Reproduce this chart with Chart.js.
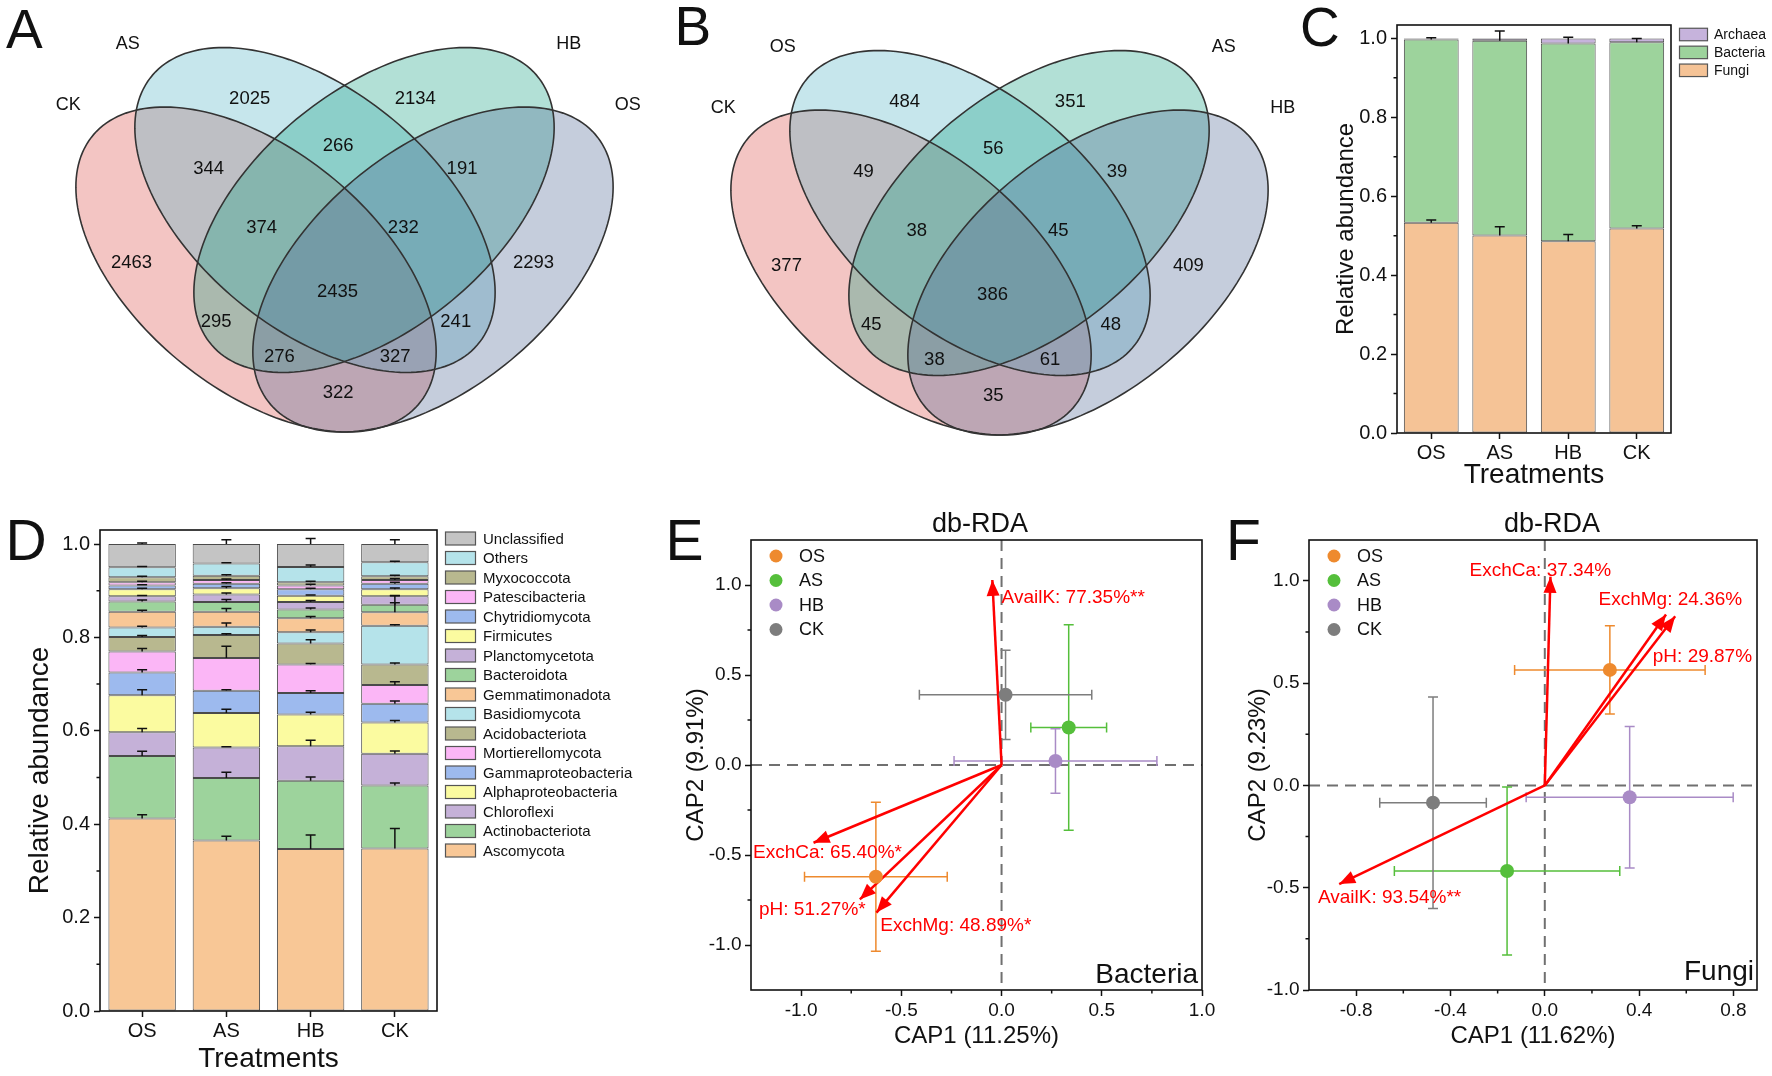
<!DOCTYPE html>
<html>
<head>
<meta charset="utf-8">
<title>Venn, composition and db-RDA panels</title>
<script src="https://cdn.jsdelivr.net/npm/chart.js@4.4.1/dist/chart.umd.min.js"></script>
<style>
  html, body { margin: 0; padding: 0; background: #fff; }
  #fig { position: relative; width: 1772px; height: 1076px; overflow: hidden; background: #fff;
         font-family: "Liberation Sans", Arial, sans-serif; color: #111; }
  #fig canvas { position: absolute; }
  .txt { position: absolute; white-space: nowrap; line-height: 1; }
</style>
</head>
<body>
<div id="fig"></div>
<script>
/* global Chart */

// ---- A / B: Venn counts, order = L, l, r, R, Ll, lr, rR, Llr, lrR, LlrR, Lr, lR, LrR, LlR, LR
// (L outer-left, l inner-left, r inner-right, R outer-right)
const vennASets = ["CK", "AS", "HB", "OS"];
const vennACounts = [2463, 2025, 2134, 2293, 344, 266, 191, 374, 232, 2435, 295, 241, 276, 327, 322];
const vennBSets = ["CK", "OS", "AS", "HB"];
const vennBCounts = [377, 484, 351, 409, 49, 56, 39, 38, 45, 386, 45, 48, 38, 61, 35];

// ---- C: kingdom level
const treatments = ["OS", "AS", "HB", "CK"];
const fungi = [0.533, 0.5005, 0.486, 0.518];
const bacteria = [0.4645, 0.4935, 0.501, 0.472];
const archaea = [0.0025, 0.006, 0.013, 0.010];
const fungiErr = [0.007, 0.022, 0.017, 0.007];
const bacteriaErr = [0.004, 0.025, 0.016, 0.010];
const archaeaErr = [0, 0, 0, 0];

// ---- D: phylum level, bottom of the stack first
const taxa = ["Ascomycota", "Actinobacteriota", "Chloroflexi", "Alphaproteobacteria", "Gammaproteobacteria",
  "Mortierellomycota", "Acidobacteriota", "Basidiomycota", "Gemmatimonadota", "Bacteroidota",
  "Planctomycetota", "Firmicutes", "Chytridiomycota", "Patescibacteria", "Myxococcota", "Others", "Unclassified"];
const taxaOS = [0.412, 0.134, 0.051, 0.079, 0.049, 0.045, 0.031, 0.020, 0.034, 0.022, 0.011, 0.015, 0.008, 0.007, 0.011, 0.021, 0.050];
const taxaAS = [0.365, 0.134, 0.065, 0.074, 0.048, 0.070, 0.049, 0.018, 0.032, 0.021, 0.016, 0.013, 0.010, 0.008, 0.009, 0.026, 0.042];
const taxaHB = [0.347, 0.146, 0.074, 0.068, 0.046, 0.061, 0.045, 0.024, 0.030, 0.019, 0.016, 0.013, 0.014, 0.008, 0.007, 0.033, 0.049];
const taxaCK = [0.348, 0.135, 0.068, 0.067, 0.040, 0.040, 0.044, 0.083, 0.029, 0.016, 0.018, 0.015, 0.012, 0.008, 0.008, 0.030, 0.039];
const errOS = [0.008, 0.010, 0.008, 0.012, 0.006, 0.006, 0.003, 0.003, 0.003, 0.003, 0.002, 0.002, 0.002, 0.002, 0.002, 0.002, 0.002];
const errAS = [0.009, 0.012, 0.002, 0.008, 0.002, 0.025, 0.003, 0.008, 0.007, 0.005, 0.003, 0.004, 0.002, 0.002, 0.002, 0.002, 0.009];
const errHB = [0.030, 0.008, 0.013, 0.005, 0.005, 0.002, 0.008, 0.005, 0.004, 0.003, 0.003, 0.002, 0.002, 0.003, 0.002, 0.004, 0.012];
const errCK = [0.043, 0.005, 0.006, 0.004, 0.006, 0.007, 0.003, 0.002, 0.035, 0.004, 0.002, 0.003, 0.003, 0.003, 0.002, 0.002, 0.009];

// ---- E / F: db-RDA
const groups = ["OS", "AS", "HB", "CK"];
const cap1E = [-0.627, 0.335, 0.269, 0.020];
const cap2E = [-0.621, 0.208, 0.022, 0.390];
const cap1ErrE = [0.356, 0.189, 0.506, 0.430];
const cap2ErrE = [0.414, 0.571, 0.179, 0.248];
const envE = ["AvailK", "ExchCa", "pH", "ExchMg"];
const envPctE = ["77.35%**", "65.40%*", "51.27%*", "48.89%*"];
const envXE = [-0.046, -0.938, -0.707, -0.624];
const envYE = [1.028, -0.432, -0.747, -0.820];

const cap1F = [0.276, -0.160, 0.360, -0.474];
const cap2F = [0.565, -0.418, -0.058, -0.084];
const cap1ErrF = [0.404, 0.478, 0.439, 0.226];
const cap2ErrF = [0.216, 0.411, 0.346, 0.517];
const envF = ["ExchCa", "ExchMg", "pH", "AvailK"];
const envPctF = ["37.34%", "24.36%", "29.87%", "93.54%**"];
const envXF = [0.024, 0.514, 0.553, -0.872];
const envYF = [1.020, 0.836, 0.827, -0.482];

// ---------------- layout / style (not data) ----------------
const FONT = '"Liberation Sans", Arial, sans-serif';
const INK = "#111";
Chart.defaults.font.family = FONT;
Chart.defaults.color = INK;

// venn geometry in venn units (semi-axes 0.35 x 0.2)
const ELLIPSES = [
  { cx: 0.36, cy: 0.47, rot: 135 },
  { cx: 0.4533, cy: 0.5744, rot: 135 },
  { cx: 0.5467, cy: 0.5744, rot: 45 },
  { cx: 0.64, cy: 0.47, rot: 45 },
];
const VENN_FILL = ["rgba(219,79,73,0.33)", "rgba(82,179,197,0.33)", "rgba(22,161,131,0.33)", "rgba(79,104,149,0.33)"];
const regionX = [0.163, 0.350, 0.612, 0.799, 0.285, 0.490, 0.686, 0.369, 0.593, 0.489, 0.297, 0.676, 0.397, 0.580, 0.490];
const regionY = [0.481, 0.770, 0.770, 0.481, 0.646, 0.686, 0.646, 0.543, 0.543, 0.431, 0.378, 0.378, 0.316, 0.316, 0.253];
const setX = [0.063, 0.157, 0.855, 0.948];
const setY = [0.758, 0.865, 0.865, 0.758];

const kingdomColors = ["#F5C396", "#9DD39C", "#C6B3DC"];
const cycle = ["#F8C796", "#9DD39C", "#C5B1D8", "#FBFBA0", "#9DBAEE", "#FBB6F6", "#B8B88F", "#B5E3EA"];
const taxaColors = taxa.map((t, i) => (t === "Unclassified" ? "#C4C4C4" : cycle[i % 8]));
const groupColors = ["#EE8A2E", "#55BF3B", "#A98BC6", "#7D7D7D"];
const tagXE = [0.0, -1.24, -1.21, -0.605];
const tagYE = [0.93, -0.49, -0.806, -0.893];
const tagXF = [-0.319, 0.228, 0.458, -0.962];
const tagYF = [1.049, 0.908, 0.628, -0.548];

const fig = document.getElementById("fig");

function makeCanvas(left, top, w, h) {
  const c = document.createElement("canvas");
  c.width = w; c.height = h;
  c.style.left = left + "px"; c.style.top = top + "px";
  c.style.width = w + "px"; c.style.height = h + "px";
  fig.appendChild(c);
  return c;
}

// text placed by its baseline
function addText(txt, size, x, baseline, align) {
  const d = document.createElement("div");
  d.className = "txt";
  d.textContent = txt;
  d.style.fontSize = size + "px";
  d.style.top = (baseline - 0.8465 * size) + "px";
  if (align === "center") { d.style.left = (x - 300) + "px"; d.style.width = "600px"; d.style.textAlign = "center"; }
  else if (align === "right") { d.style.left = (x - 600) + "px"; d.style.width = "600px"; d.style.textAlign = "right"; }
  else d.style.left = x + "px";
  fig.appendChild(d);
}

// ---------------- plugins ----------------
const vennPlugin = {
  id: "venn",
  beforeDatasetsDraw(chart) {
    const { ctx, scales: { x, y } } = chart;
    const paths = ELLIPSES.map(e => {
      const p = new Path2D();
      const r = e.rot * Math.PI / 180;
      for (let i = 0; i <= 180; i++) {
        const t = i / 180 * 2 * Math.PI;
        const u = 0.35 * Math.cos(t), v = 0.2 * Math.sin(t);
        const px = x.getPixelForValue(e.cx + u * Math.cos(r) - v * Math.sin(r));
        const py = y.getPixelForValue(e.cy + u * Math.sin(r) + v * Math.cos(r));
        if (i) p.lineTo(px, py); else p.moveTo(px, py);
      }
      p.closePath();
      return p;
    });
    ctx.save();
    paths.forEach((p, i) => { ctx.fillStyle = VENN_FILL[i]; ctx.fill(p); });
    ctx.strokeStyle = "#333"; ctx.lineWidth = 1.6;
    paths.forEach(p => ctx.stroke(p));
    ctx.restore();
  },
  afterDatasetsDraw(chart, args, opts) {
    const { ctx, scales: { x, y } } = chart;
    const ds = chart.data.datasets[0];
    ctx.save();
    ctx.fillStyle = INK; ctx.textAlign = "center"; ctx.textBaseline = "middle";
    ctx.font = "18.5px " + FONT;
    chart.getDatasetMeta(0).data.forEach((pt, i) => ctx.fillText(String(ds.counts[i]), pt.x, pt.y));
    ctx.font = "18px " + FONT;
    opts.sets.forEach((s, i) => ctx.fillText(s, x.getPixelForValue(setX[i]), y.getPixelForValue(setY[i])));
    ctx.restore();
  }
};

const framePlugin = {
  id: "frame",
  afterDraw(chart) {
    const { ctx, chartArea: a } = chart;
    ctx.save(); ctx.strokeStyle = INK; ctx.lineWidth = 1.6;
    ctx.strokeRect(a.left, a.top, a.right - a.left, a.bottom - a.top);
    ctx.restore();
  }
};

const minorPlugin = {
  id: "minor",
  afterDraw(chart, args, opts) {
    const { ctx, chartArea: a, scales } = chart;
    ctx.save(); ctx.strokeStyle = INK; ctx.lineWidth = 1.5; ctx.beginPath();
    (opts.x || []).forEach(v => { const p = scales.x.getPixelForValue(v); ctx.moveTo(p, a.bottom); ctx.lineTo(p, a.bottom + 3.5); });
    (opts.y || []).forEach(v => { const p = scales.y.getPixelForValue(v); ctx.moveTo(a.left, p); ctx.lineTo(a.left - 3.5, p); });
    ctx.stroke(); ctx.restore();
  }
};

const barErrPlugin = {
  id: "barErr",
  afterDatasetsDraw(chart) {
    const { ctx, scales: { y } } = chart;
    const sets = chart.data.datasets;
    ctx.save(); ctx.strokeStyle = INK; ctx.lineWidth = 1.5;
    sets.forEach((ds, i) => {
      chart.getDatasetMeta(i).data.forEach((bar, j) => {
        const e = ds.err[j];
        if (!e) return;
        let cum = 0;
        for (let k = 0; k <= i; k++) cum += sets[k].data[j];
        const yt = y.getPixelForValue(cum + e);
        ctx.beginPath();
        ctx.moveTo(bar.x, bar.y); ctx.lineTo(bar.x, yt);
        ctx.moveTo(bar.x - 5, yt); ctx.lineTo(bar.x + 5, yt);
        ctx.stroke();
      });
    });
    ctx.restore();
  }
};

const boxLegendPlugin = {
  id: "boxLegend",
  afterDraw(chart, args, o) {
    const { ctx, chartArea: a } = chart;
    const items = chart.data.datasets.slice().reverse();
    ctx.save();
    ctx.font = o.size + "px " + FONT; ctx.textBaseline = "middle"; ctx.textAlign = "left";
    items.forEach((ds, i) => {
      const cy = a.top + o.dy0 + i * o.step;
      const bx = a.right + o.dx;
      ctx.fillStyle = ds.backgroundColor; ctx.fillRect(bx, cy - o.bh / 2, o.bw, o.bh);
      ctx.strokeStyle = "#555"; ctx.lineWidth = 1.2; ctx.strokeRect(bx, cy - o.bh / 2, o.bw, o.bh);
      ctx.fillStyle = INK; ctx.fillText(ds.label, bx + o.bw + o.gap, cy + 1);
    });
    ctx.restore();
  }
};

const rdaPlugin = {
  id: "rda",
  beforeDatasetsDraw(chart) {
    const { ctx, chartArea: a, scales: { x, y } } = chart;
    ctx.save();
    ctx.strokeStyle = "#707070"; ctx.lineWidth = 2; ctx.setLineDash([11, 7]);
    const x0 = x.getPixelForValue(0), y0 = y.getPixelForValue(0);
    ctx.beginPath();
    ctx.moveTo(x0, a.top); ctx.lineTo(x0, a.bottom);
    ctx.moveTo(a.left, y0); ctx.lineTo(a.right, y0);
    ctx.stroke();
    ctx.setLineDash([]);
    chart.data.datasets.forEach(ds => {
      if (!ds.group) return;
      const p = ds.data[0];
      const cx = x.getPixelForValue(p.x), cy = y.getPixelForValue(p.y);
      const l = x.getPixelForValue(p.x - ds.xErr), r = x.getPixelForValue(p.x + ds.xErr);
      const t = y.getPixelForValue(p.y + ds.yErr), b = y.getPixelForValue(p.y - ds.yErr);
      ctx.strokeStyle = ds.backgroundColor; ctx.lineWidth = 1.5;
      ctx.beginPath();
      ctx.moveTo(l, cy); ctx.lineTo(r, cy);
      ctx.moveTo(l, cy - 5); ctx.lineTo(l, cy + 5);
      ctx.moveTo(r, cy - 5); ctx.lineTo(r, cy + 5);
      ctx.moveTo(cx, t); ctx.lineTo(cx, b);
      ctx.moveTo(cx - 5, t); ctx.lineTo(cx + 5, t);
      ctx.moveTo(cx - 5, b); ctx.lineTo(cx + 5, b);
      ctx.stroke();
    });
    ctx.restore();
  },
  afterDatasetsDraw(chart) {
    const { ctx, chartArea: a, scales: { x, y } } = chart;
    ctx.save();
    chart.data.datasets.forEach((ds, i) => {
      if (!ds.arrow) return;
      const [p0, p1] = chart.getDatasetMeta(i).data;
      const ang = Math.atan2(p1.y - p0.y, p1.x - p0.x);
      const c = Math.cos(ang), s = Math.sin(ang);
      ctx.fillStyle = "#FF0000";
      ctx.beginPath();
      ctx.moveTo(p1.x, p1.y);
      ctx.lineTo(p1.x - 16 * c + 6.5 * s, p1.y - 16 * s - 6.5 * c);
      ctx.lineTo(p1.x - 16 * c - 6.5 * s, p1.y - 16 * s + 6.5 * c);
      ctx.closePath(); ctx.fill();
      ctx.font = "19px " + FONT; ctx.textAlign = "left"; ctx.textBaseline = "middle";
      ctx.fillText(ds.tag, x.getPixelForValue(ds.tagX), y.getPixelForValue(ds.tagY));
    });
    // legend
    ctx.font = "18px " + FONT; ctx.textBaseline = "middle"; ctx.textAlign = "left";
    chart.data.datasets.filter(d => d.group).forEach((ds, i) => {
      const cx = a.left + 25, cy = a.top + 16 + i * 24.5;
      ctx.fillStyle = ds.backgroundColor;
      ctx.beginPath(); ctx.arc(cx, cy, 6.5, 0, 2 * Math.PI); ctx.fill();
      ctx.fillStyle = INK; ctx.fillText(ds.label, cx + 23, cy + 1);
    });
    ctx.restore();
  }
};

// ---------------- axis helpers ----------------
function yAxis(o) {
  return {
    type: "linear", min: o.min, max: o.max, stacked: !!o.stacked,
    afterFit: s => { s.width = o.width; s.paddingTop = 0; s.paddingBottom = 0; },
    afterBuildTicks: s => { s.ticks = o.ticks.map(v => ({ value: v })); },
    ticks: { font: { size: o.tickSize }, padding: o.tickPad, color: INK, callback: v => v.toFixed(1) },
    grid: { drawOnChartArea: false, tickLength: 6, tickWidth: 1.5, tickColor: INK },
    border: { display: false },
    title: { display: true, text: o.title, color: INK, font: { size: o.titleSize }, padding: { top: o.titlePad, bottom: 0 } }
  };
}

function xLinear(o) {
  return {
    type: "linear", min: o.min, max: o.max,
    afterFit: s => { s.height = o.height; s.paddingLeft = 0; s.paddingRight = 0; },
    afterBuildTicks: s => { s.ticks = o.ticks.map(v => ({ value: v })); },
    ticks: { font: { size: 19 }, padding: 3, color: INK, maxRotation: 0, callback: v => v.toFixed(1) },
    grid: { drawOnChartArea: false, tickLength: 6, tickWidth: 1.5, tickColor: INK },
    border: { display: false },
    title: { display: true, text: o.title, color: INK, font: { size: 24 }, padding: { top: 0, bottom: 0 } }
  };
}

function xCategory(height) {
  return {
    type: "category", stacked: true, offset: true,
    afterFit: s => { s.height = height; s.paddingLeft = 0; s.paddingRight = 0; },
    ticks: { font: { size: 20 }, padding: 2, color: INK, maxRotation: 0 },
    grid: { offset: false, drawOnChartArea: false, tickLength: 6, tickWidth: 1.5, tickColor: INK },
    border: { display: false },
    title: { display: true, text: "Treatments", color: INK, font: { size: 28 }, padding: { top: 0, bottom: 0 } }
  };
}

const quiet = { legend: { display: false }, tooltip: { enabled: false } };

// ---------------- A, B ----------------
function venn(left, top, w, h, pad, sets, counts) {
  new Chart(makeCanvas(left, top, w, h), {
    type: "scatter",
    data: { datasets: [{ data: regionX.map((x, i) => ({ x, y: regionY[i] })), counts, pointRadius: 0 }] },
    options: {
      responsive: false, animation: false, events: [],
      layout: { padding: pad, autoPadding: false },
      scales: { x: { display: false, min: 0, max: 1 }, y: { display: false, min: 0.1, max: 0.9 } },
      plugins: Object.assign({ venn: { sets } }, quiet)
    },
    plugins: [vennPlugin]
  });
}
venn(0, 0, 670, 500, { left: 28.5, right: 9.5, top: 24.4, bottom: 19.6 }, vennASets, vennACounts);
venn(660, 0, 670, 500, { left: 23.5, right: 14.5, top: 27.4, bottom: 16.6 }, vennBSets, vennBCounts);

// ---------------- C ----------------
const barDefaults = { borderColor: "#4a4a4a", borderWidth: 1, borderSkipped: false, barPercentage: 0.8, categoryPercentage: 1 };
new Chart(makeCanvas(1290, 0, 482, 492), {
  type: "bar",
  data: {
    labels: treatments,
    datasets: [
      { label: "Fungi", data: fungi, err: fungiErr, backgroundColor: kingdomColors[0] },
      { label: "Bacteria", data: bacteria, err: bacteriaErr, backgroundColor: kingdomColors[1] },
      { label: "Archaea", data: archaea, err: archaeaErr, backgroundColor: kingdomColors[2] }
    ]
  },
  options: {
    responsive: false, animation: false, events: [],
    layout: { padding: { left: 0, top: 25, right: 101, bottom: 0 }, autoPadding: false },
    datasets: { bar: barDefaults },
    scales: {
      x: xCategory(59),
      y: yAxis({ min: 0, max: 1.034, stacked: true, width: 107, ticks: [0, 0.2, 0.4, 0.6, 0.8, 1.0], tickSize: 20, tickPad: 4,
                 title: "Relative abundance", titleSize: 24, titlePad: 41.6 })
    },
    plugins: Object.assign({
      minor: { y: [0.1, 0.3, 0.5, 0.7, 0.9] },
      boxLegend: { dx: 8.5, dy0: 9.5, step: 17.9, bw: 28, bh: 12.5, gap: 6.5, size: 14 }
    }, quiet)
  },
  plugins: [barErrPlugin, framePlugin, minorPlugin, boxLegendPlugin]
});

// ---------------- D ----------------
const byTreatment = [taxaOS, taxaAS, taxaHB, taxaCK];
const errByTreatment = [errOS, errAS, errHB, errCK];
new Chart(makeCanvas(0, 510, 640, 566), {
  type: "bar",
  data: {
    labels: treatments,
    datasets: taxa.map((name, k) => ({
      label: name,
      data: byTreatment.map(t => t[k]),
      err: errByTreatment.map(t => t[k]),
      backgroundColor: taxaColors[k]
    }))
  },
  options: {
    responsive: false, animation: false, events: [],
    layout: { padding: { left: 0, top: 20, right: 203, bottom: 0 }, autoPadding: false },
    datasets: { bar: barDefaults },
    scales: {
      x: xCategory(65),
      y: yAxis({ min: 0, max: 1.03, stacked: true, width: 100, ticks: [0, 0.2, 0.4, 0.6, 0.8, 1.0], tickSize: 20, tickPad: 4,
                 title: "Relative abundance", titleSize: 28, titlePad: 23.2 })
    },
    plugins: Object.assign({
      minor: { y: [0.1, 0.3, 0.5, 0.7, 0.9] },
      boxLegend: { dx: 8.5, dy0: 8.5, step: 19.5, bw: 30, bh: 13, gap: 7.5, size: 15 }
    }, quiet)
  },
  plugins: [barErrPlugin, framePlugin, minorPlugin, boxLegendPlugin]
});

// ---------------- E, F ----------------
function rda(canvas, o) {
  const pts = groups.map((g, i) => ({
    label: g, group: true, data: [{ x: o.cx[i], y: o.cy[i] }], xErr: o.ex[i], yErr: o.ey[i],
    backgroundColor: groupColors[i], borderColor: groupColors[i], pointRadius: 7, pointBorderWidth: 0
  }));
  const arrows = o.env.map((name, i) => ({
    label: name, arrow: true, tag: name + ": " + o.pct[i], tagX: o.tagX[i], tagY: o.tagY[i],
    data: [{ x: 0, y: 0 }, { x: o.ax[i], y: o.ay[i] }], showLine: true,
    borderColor: "#FF0000", borderWidth: 2.5, pointRadius: 0
  }));
  new Chart(canvas, {
    type: "scatter",
    data: { datasets: pts.concat(arrows) },
    options: {
      responsive: false, animation: false, events: [],
      layout: { padding: o.pad, autoPadding: false },
      scales: {
        x: xLinear({ min: o.xmin, max: o.xmax, ticks: o.xticks, height: 60.4, title: o.xtitle }),
        y: yAxis({ min: o.ymin, max: o.ymax, width: o.yw, ticks: [-1, -0.5, 0, 0.5, 1], tickSize: 19, tickPad: 3.5,
                   title: o.ytitle, titleSize: 24, titlePad: o.ytp })
      },
      plugins: Object.assign({ minor: { x: o.xminor, y: [-0.75, -0.25, 0.25, 0.75] } }, quiet)
    },
    plugins: [rdaPlugin, framePlugin, minorPlugin]
  });
}

rda(makeCanvas(640, 500, 580, 576), {
  cx: cap1E, cy: cap2E, ex: cap1ErrE, ey: cap2ErrE,
  env: envE, pct: envPctE, ax: envXE, ay: envYE, tagX: tagXE, tagY: tagYE,
  pad: { left: 0, top: 40, right: 18, bottom: 25.6 },
  xmin: -1.25, xmax: 1.0, xticks: [-1, -0.5, 0, 0.5, 1], xminor: [-0.75, -0.25, 0.25, 0.75],
  ymin: -1.25, ymax: 1.25, yw: 111, ytp: 41.6,
  xtitle: "CAP1 (11.25%)", ytitle: "CAP2 (9.91%)"
});

rda(makeCanvas(1220, 500, 552, 576), {
  cx: cap1F, cy: cap2F, ex: cap1ErrF, ey: cap2ErrF,
  env: envF, pct: envPctF, ax: envXF, ay: envYF, tagX: tagXF, tagY: tagYF,
  pad: { left: 0, top: 40, right: 15, bottom: 25.6 },
  xmin: -1.0, xmax: 0.9, xticks: [-0.8, -0.4, 0, 0.4, 0.8], xminor: [-0.6, -0.2, 0.2, 0.6],
  ymin: -1.0, ymax: 1.2, yw: 89, ytp: 23.6,
  xtitle: "CAP1 (11.62%)", ytitle: "CAP2 (9.23%)"
});

// ---------------- panel letters and titles ----------------
addText("A", 55, 6, 49);
addText("B", 55, 674.5, 46);
addText("C", 55, 1300, 47);
addText("D", 57, 5.5, 560);
addText("E", 57, 665.5, 560);
addText("F", 57, 1226, 560);
addText("db-RDA", 27, 980, 533, "center");
addText("db-RDA", 27, 1552, 533, "center");
addText("Bacteria", 28, 1198, 984, "right");
addText("Fungi", 28, 1754, 981, "right");
</script>
</body>
</html>
